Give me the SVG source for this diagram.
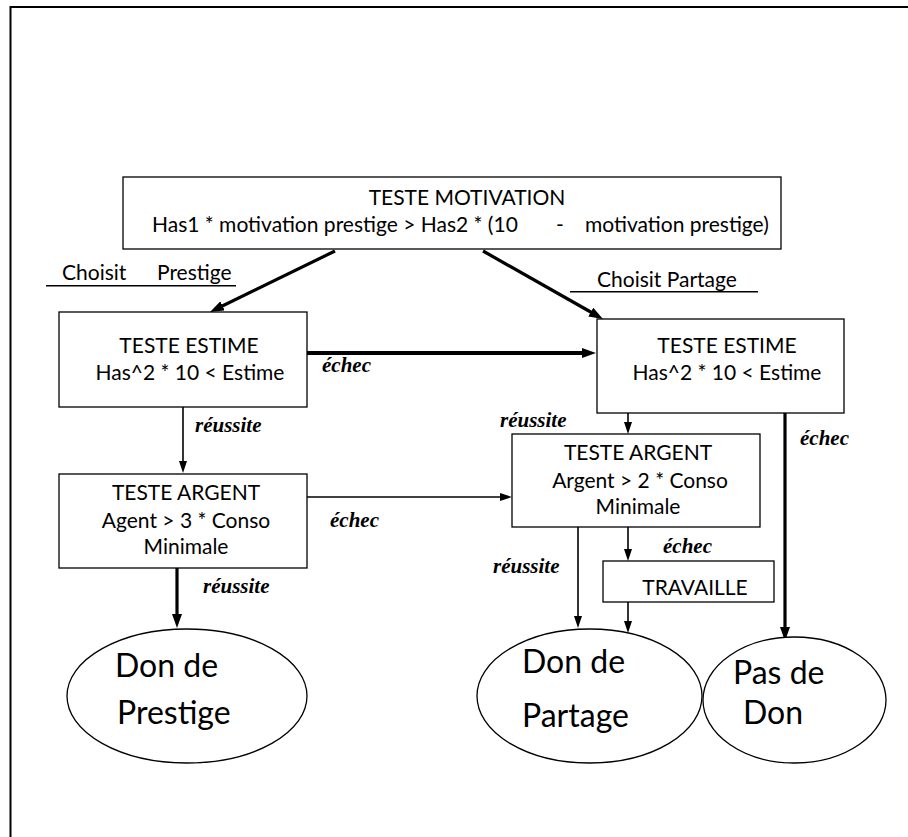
<svg xmlns="http://www.w3.org/2000/svg" width="908" height="837" viewBox="0 0 908 837">
<style>
.box{fill:#fff;stroke:#000;stroke-width:1.3}
.ell{fill:#fff;stroke:#000;stroke-width:1.3}
.t{font-family:Lato,"Liberation Sans",sans-serif;font-size:21px;fill:#000}
.c{text-anchor:middle}
.big{font-family:Lato,"Liberation Sans",sans-serif;font-size:32px;fill:#000}
.lbl{font-family:"Liberation Serif","Times New Roman",serif;font-size:21px;font-weight:bold;font-style:italic;fill:#000}
.thin{stroke:#000;stroke-width:1.6;fill:none}
.thick{stroke:#000;stroke-width:3.2;fill:none}
.thicker{stroke:#000;stroke-width:4.2;fill:none}
</style>
<defs>
<marker id="ah" markerUnits="userSpaceOnUse" markerWidth="16" markerHeight="12" refX="6" refY="5" orient="auto"><path d="M0,0 L14,5 L0,10 z" fill="#000"/></marker>
<marker id="as" markerUnits="userSpaceOnUse" markerWidth="14" markerHeight="10" refX="6" refY="4" orient="auto"><path d="M0,0 L12,4 L0,8 z" fill="#000"/></marker>
</defs>
<g id="frame">
<line x1="10" y1="7" x2="908" y2="7" stroke="#000" stroke-width="2"/>
<line x1="10.5" y1="6" x2="10.5" y2="837" stroke="#000" stroke-width="2"/>
</g>
<g id="connectors">
<line class="thick" x1="335" y1="251" x2="217.2" y2="308.5" marker-end="url(#ah)"/>
<line class="thick" x1="483" y1="251" x2="596" y2="315" marker-end="url(#ah)"/>
<line class="thicker" x1="307" y1="353" x2="588" y2="353" marker-end="url(#ah)"/>
<line class="thin" x1="183" y1="407" x2="183" y2="467" marker-end="url(#as)"/>
<line class="thin" x1="307" y1="497" x2="506" y2="497" marker-end="url(#as)"/>
<line class="thick" x1="177" y1="568" x2="177" y2="620" marker-end="url(#ah)"/>
<line class="thin" x1="628" y1="413" x2="628" y2="428" marker-end="url(#as)"/>
<line class="thick" x1="785" y1="413" x2="785" y2="633" marker-end="url(#ah)"/>
<line class="thin" x1="578" y1="527" x2="578" y2="622" marker-end="url(#as)"/>
<line class="thin" x1="628" y1="527" x2="628" y2="555" marker-end="url(#as)"/>
<line class="thin" x1="628" y1="602" x2="628" y2="627" marker-end="url(#as)"/>
<text class="lbl" x="322" y="372">échec</text>
<text class="lbl" x="195" y="432">réussite</text>
<text class="lbl" x="330" y="527">échec</text>
<text class="lbl" x="203" y="593">réussite</text>
<text class="lbl" x="500" y="427">réussite</text>
<text class="lbl" x="800" y="445">échec</text>
<text class="lbl" x="493" y="573">réussite</text>
<text class="lbl" x="663" y="553">échec</text>
</g>
<g id="choisit-prestige">
<text class="t" x="62" y="280">Choisit</text>
<text class="t" x="157" y="280">Prestige</text>
<line x1="46" y1="285.7" x2="236" y2="285.7" stroke="#000" stroke-width="1.5"/>
</g>
<g id="choisit-partage">
<text class="t" x="597" y="287">Choisit Partage</text>
<line x1="570" y1="291.7" x2="758" y2="291.7" stroke="#000" stroke-width="1.5"/>
</g>
<g id="teste-motivation">
<rect class="box" x="123" y="177" width="658" height="72"/>
<text class="t c" x="467" y="205">TESTE MOTIVATION</text>
<text class="t" x="152" y="232">Has1 * motivation prestige &gt; Has2 * (10</text>
<text class="t c" x="560" y="232">-</text>
<text class="t" x="585" y="232">motivation prestige)</text>
</g>
<g id="estime-left">
<rect class="box" x="59" y="312" width="248" height="95"/>
<text class="t c" x="189" y="353">TESTE ESTIME</text>
<text class="t c" x="190" y="380">Has^2 * 10 &lt; Estime</text>
</g>
<g id="estime-right">
<rect class="box" x="597" y="319" width="247" height="94"/>
<text class="t c" x="727" y="353">TESTE ESTIME</text>
<text class="t c" x="727" y="380">Has^2 * 10 &lt; Estime</text>
</g>
<g id="argent-left">
<rect class="box" x="59" y="474" width="248" height="94"/>
<text class="t c" x="186" y="500">TESTE ARGENT</text>
<text class="t c" x="186" y="528">Agent &gt; 3 * Conso</text>
<text class="t c" x="186" y="554">Minimale</text>
</g>
<g id="argent-right">
<rect class="box" x="512" y="434" width="248" height="93"/>
<text class="t c" x="638" y="460">TESTE ARGENT</text>
<text class="t c" x="640" y="488">Argent &gt; 2 * Conso</text>
<text class="t c" x="638" y="514">Minimale</text>
</g>
<g id="travaille">
<rect class="box" x="603" y="561" width="171" height="41"/>
<text class="t c" x="695" y="595">TRAVAILLE</text>
</g>
<g id="don-prestige">
<ellipse class="ell" cx="187" cy="696" rx="120" ry="67"/>
<text class="big" x="115" y="677">Don de</text>
<text class="big" x="117" y="724">Prestige</text>
</g>
<g id="don-partage">
<ellipse class="ell" cx="589.5" cy="696" rx="112.5" ry="67"/>
<text class="big" x="522" y="673">Don de</text>
<text class="big" x="522" y="727">Partage</text>
</g>
<g id="pas-de-don">
<ellipse class="ell" cx="794.5" cy="700" rx="91.5" ry="63"/>
<text class="big" x="733" y="684">Pas de</text>
<text class="big" x="743" y="724">Don</text>
</g>
</svg>
